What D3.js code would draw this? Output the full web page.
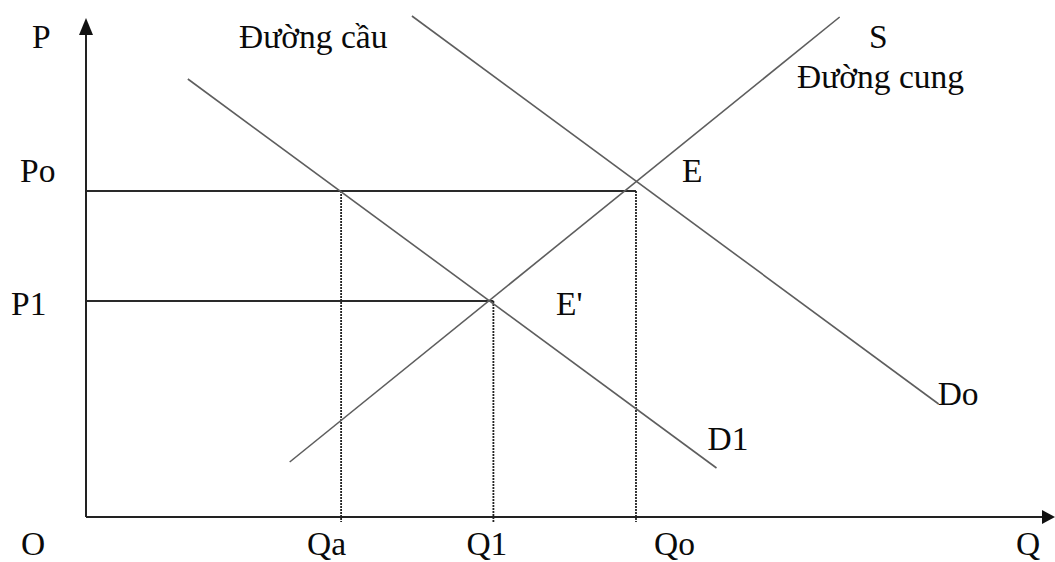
<!DOCTYPE html>
<html>
<head>
<meta charset="utf-8">
<script src="https://cdn.jsdelivr.net/npm/d3@7"></script>
<style>
  body { margin: 0; background: #fff; }
  svg text { font-family: "Liberation Serif", "Times New Roman", serif; font-size: 33.5px; fill: #0a0a0a; }
</style>
</head>
<body>
<svg id="chart"></svg>
<script>
// Price / quantity levels (chart units)
var priceLevels = [
  { name: 'Po', value: 3.26 },
  { name: 'P1', value: 2.16 }
];
var quantityLevels = [
  { name: 'Qa', value: 2.63, top: 3.26 },
  { name: 'Q1', value: 4.20, top: 2.16 },
  { name: 'Qo', value: 5.67, top: 3.26 }
];

// Curves, as end points [Q, P]
var supplyS = [[2.10, 0.55], [7.77, 5.00]];
var demandD1 = [[1.05, 4.38], [6.50, 0.49]];
var demandDo = [[3.36, 5.01], [8.79, 1.13]];

// Axis extents
var qMax = 10, pMax = 5;

var svgWidth = 1055, svgHeight = 562;
var svg = d3.select('#chart').attr('width', svgWidth).attr('height', svgHeight);

var x = d3.scaleLinear().domain([0, qMax]).range([86, 1056]);
var y = d3.scaleLinear().domain([0, pMax]).range([517, 17]);

var line = d3.line().x(function(d) { return x(d[0]); }).y(function(d) { return y(d[1]); });

// horizontal price lines
svg.selectAll('.hline')
    .data(priceLevels)
  .enter().append('line')
    .attr('class', 'hline')
    .attr('x1', x(0))
    .attr('x2', function(d) { return d.name === 'Po' ? x(5.67) : x(4.20); })
    .attr('y1', function(d) { return y(d.value); })
    .attr('y2', function(d) { return y(d.value); })
    .attr('stroke', '#2a2a2a')
    .attr('stroke-width', 1.8);

// dotted quantity lines
svg.selectAll('.vline')
    .data(quantityLevels)
  .enter().append('line')
    .attr('class', 'vline')
    .attr('x1', function(d) { return x(d.value); })
    .attr('x2', function(d) { return x(d.value); })
    .attr('y1', function(d) { return y(d.top); })
    .attr('y2', y(0) + 5)
    .attr('stroke', '#222')
    .attr('stroke-width', 1.8)
    .attr('stroke-dasharray', '2,1');

// curves
[supplyS, demandD1, demandDo].forEach(function(c) {
  svg.append('path')
      .attr('d', line(c))
      .attr('fill', 'none')
      .attr('stroke', '#5e5e5e')
      .attr('stroke-width', 1.6);
});

// axes
svg.append('line')
    .attr('x1', x(0)).attr('y1', y(0))
    .attr('x2', x(0)).attr('y2', y(pMax) + 10)
    .attr('stroke', '#222').attr('stroke-width', 2);
svg.append('line')
    .attr('x1', x(0)).attr('y1', y(0))
    .attr('x2', x(qMax) - 10).attr('y2', y(0))
    .attr('stroke', '#222').attr('stroke-width', 2);

// arrow heads
svg.append('path')
    .attr('d', 'M' + x(0) + ',' + (y(pMax) + 1) + 'l-7,17l14,0z')
    .attr('fill', '#111');
svg.append('path')
    .attr('d', 'M' + (x(qMax) - 1) + ',' + y(0) + 'l-13,-7l0,14z')
    .attr('fill', '#111');

// axis labels
svg.append('text').attr('x', 32).attr('y', 48).text('P');
svg.append('text').attr('x', 21).attr('y', 555).text('O');
svg.append('text').attr('x', 1016).attr('y', 555).text('Q');

// price tick labels
var pOffsets = { 'Po': { x: 20, dy: -9 }, 'P1': { x: 11, dy: 14 } };
svg.selectAll('.plabel')
    .data(priceLevels)
  .enter().append('text')
    .attr('class', 'plabel')
    .attr('x', function(d) { return pOffsets[d.name].x; })
    .attr('y', function(d) { return y(d.value) + pOffsets[d.name].dy; })
    .text(function(d) { return d.name; });

// quantity tick labels
var qOffsets = { 'Qa': -34, 'Q1': -27, 'Qo': 18 };
svg.selectAll('.qlabel')
    .data(quantityLevels)
  .enter().append('text')
    .attr('class', 'qlabel')
    .attr('x', function(d) { return x(d.value) + qOffsets[d.name]; })
    .attr('y', 555)
    .text(function(d) { return d.name; });

// curve + point labels
svg.append('text').attr('x', 239).attr('y', 48).text('Đường cầu');
svg.append('text').attr('x', 869).attr('y', 48).text('S');
svg.append('text').attr('x', 797).attr('y', 88).text('Đường cung');
svg.append('text').attr('x', x(demandDo[1][0]) - 1).attr('y', y(demandDo[1][1]) + 1).text('Do');
svg.append('text').attr('x', x(demandD1[1][0]) - 9).attr('y', y(demandD1[1][1]) - 18).text('D1');
svg.append('text').attr('x', 682).attr('y', 182).text('E');
svg.append('text').attr('x', 556).attr('y', 315).text("E'");
</script>
</body>
</html>
